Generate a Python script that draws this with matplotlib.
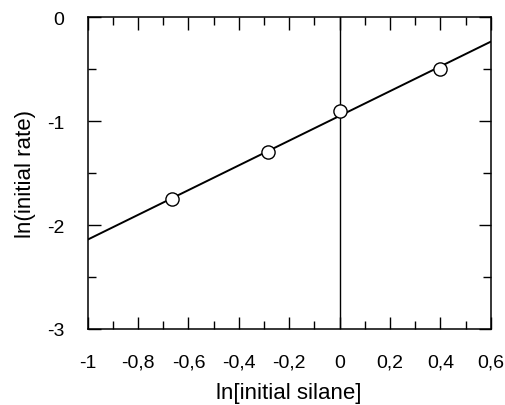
import numpy as np
import matplotlib
matplotlib.use("Agg")
import matplotlib.pyplot as plt
from matplotlib.ticker import FuncFormatter, MultipleLocator

plt.rcParams['font.family'] = ['Liberation Sans', 'DejaVu Sans']

ln_silane = [-0.664, -0.283, 0.0, 0.40]
ln_rate = [-1.75, -1.30, -0.90, -0.50]
x_range = [-1, 0.6]

# least-squares line through the four points
slope, intercept = np.polyfit(ln_silane, ln_rate, 1)
xs = np.array(x_range)

fig = plt.figure(figsize=(5.05, 4.06), dpi=100)
ax = fig.add_axes([0.1737, 0.1872, 0.798, 0.768])

ax.plot(xs, slope * xs + intercept, color='black', lw=1.4, zorder=2)
ax.axvline(0, color='black', lw=1.0, zorder=1)
ax.plot(ln_silane, ln_rate, 'o', ms=9.5, mfc='white', mec='black', mew=1.0, zorder=3)

ax.set_xlim(-1, 0.6)
ax.set_ylim(-3, 0)
ax.xaxis.set_major_locator(MultipleLocator(0.2))
ax.xaxis.set_minor_locator(MultipleLocator(0.1))
ax.yaxis.set_major_locator(MultipleLocator(1))
ax.yaxis.set_minor_locator(MultipleLocator(0.5))

def comma(v, pos):
    s = f"{v:.1f}" if abs(v - round(v)) > 1e-9 else f"{int(round(v))}"
    return s.replace('.', ',')

ax.xaxis.set_major_formatter(FuncFormatter(comma))
ax.yaxis.set_major_formatter(FuncFormatter(comma))

ax.tick_params(which='major', direction='in', length=9, width=1.0, top=True, right=True,
               labelsize=14)
ax.tick_params(which='minor', direction='in', length=6, width=1.0, top=True, right=True)
ax.tick_params(axis='x', which='major', pad=18)
ax.tick_params(axis='y', which='major', pad=17)
for sp in ax.spines.values():
    sp.set_linewidth(1.1)

ax.set_xlabel("ln[initial silane]", fontsize=16, labelpad=8)
ax.set_ylabel("ln(initial rate)", fontsize=16, labelpad=8)

fig.savefig("out.png", dpi=100)
